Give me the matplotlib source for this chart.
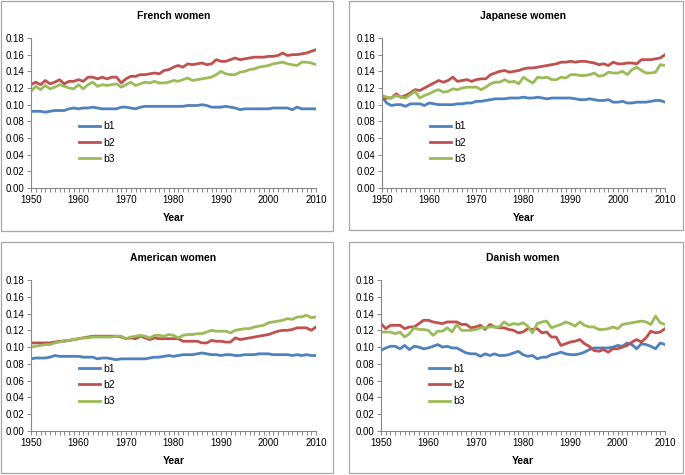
import numpy as np
import matplotlib
matplotlib.use("Agg")
import matplotlib.pyplot as plt
from matplotlib.patches import Rectangle
from matplotlib.ticker import MultipleLocator

plt.rcParams["font.family"] = ["Liberation Sans", "DejaVu Sans"]

YEARS = list(range(1950, 2011))
SERIES = ["b1", "b2", "b3"]
COLORS = ["#4F81BD", "#C0504D", "#9BBB59"]

french_b1 = [0.092, 0.092, 0.092, 0.091, 0.092, 0.093, 0.093, 0.093, 0.095, 0.096,
             0.095, 0.096, 0.096, 0.097, 0.096, 0.095, 0.095, 0.095, 0.095, 0.097,
             0.097, 0.096, 0.095, 0.097, 0.098, 0.098, 0.098, 0.098, 0.098, 0.098,
             0.098, 0.098, 0.098, 0.099, 0.099, 0.099, 0.100, 0.099, 0.097, 0.097,
             0.097, 0.098, 0.097, 0.096, 0.094, 0.095, 0.095, 0.095, 0.095, 0.095,
             0.095, 0.096, 0.096, 0.096, 0.096, 0.094, 0.097, 0.095, 0.095, 0.095,
             0.095]
french_b2 = [0.124, 0.127, 0.124, 0.129, 0.125, 0.127, 0.130, 0.125, 0.128, 0.128,
             0.130, 0.128, 0.133, 0.133, 0.131, 0.133, 0.131, 0.133, 0.133, 0.126,
             0.131, 0.134, 0.134, 0.136, 0.136, 0.137, 0.138, 0.137, 0.141, 0.142,
             0.145, 0.147, 0.145, 0.149, 0.148, 0.149, 0.150, 0.148, 0.149, 0.154,
             0.152, 0.152, 0.154, 0.156, 0.154, 0.155, 0.156, 0.157, 0.157, 0.157,
             0.158, 0.158, 0.159, 0.162, 0.159, 0.160, 0.160, 0.161, 0.162, 0.164,
             0.166]
french_b3 = [0.116, 0.122, 0.118, 0.123, 0.119, 0.121, 0.124, 0.122, 0.120, 0.119,
             0.124, 0.119, 0.124, 0.127, 0.122, 0.124, 0.123, 0.124, 0.125, 0.121,
             0.124, 0.127, 0.123, 0.125, 0.127, 0.126, 0.128, 0.126, 0.126, 0.127,
             0.129, 0.128, 0.130, 0.132, 0.129, 0.130, 0.131, 0.132, 0.133, 0.136,
             0.140, 0.137, 0.136, 0.136, 0.139, 0.140, 0.142, 0.143, 0.145, 0.146,
             0.147, 0.149, 0.150, 0.151, 0.149, 0.148, 0.147, 0.151, 0.151, 0.150,
             0.148]

japanese_b1 = [0.110, 0.102, 0.099, 0.100, 0.100, 0.098, 0.101, 0.101, 0.101, 0.099,
               0.102, 0.101, 0.100, 0.100, 0.100, 0.100, 0.101, 0.101, 0.102, 0.102,
               0.104, 0.104, 0.105, 0.106, 0.107, 0.107, 0.107, 0.108, 0.108, 0.108,
               0.109, 0.108, 0.108, 0.109, 0.108, 0.107, 0.108, 0.108, 0.108, 0.108,
               0.108, 0.107, 0.106, 0.106, 0.107, 0.106, 0.105, 0.105, 0.106, 0.103,
               0.103, 0.104, 0.102, 0.102, 0.103, 0.103, 0.103, 0.104, 0.105, 0.105,
               0.103]
japanese_b2 = [0.106, 0.108, 0.108, 0.113, 0.109, 0.111, 0.114, 0.118, 0.117, 0.120,
               0.123, 0.126, 0.129, 0.127, 0.129, 0.133, 0.128, 0.129, 0.130, 0.128,
               0.130, 0.131, 0.131, 0.136, 0.138, 0.140, 0.141, 0.139, 0.140, 0.141,
               0.143, 0.144, 0.144, 0.145, 0.146, 0.147, 0.148, 0.149, 0.151, 0.151,
               0.152, 0.151, 0.152, 0.152, 0.151, 0.150, 0.148, 0.149, 0.147, 0.151,
               0.149, 0.149, 0.150, 0.150, 0.149, 0.154, 0.154, 0.154, 0.155, 0.156,
               0.160]
japanese_b3 = [0.111, 0.109, 0.108, 0.111, 0.109, 0.108, 0.112, 0.116, 0.108, 0.111,
               0.113, 0.116, 0.118, 0.115, 0.116, 0.119, 0.118, 0.120, 0.121, 0.121,
               0.121, 0.118, 0.121, 0.125, 0.127, 0.127, 0.130, 0.127, 0.128, 0.125,
               0.133, 0.129, 0.126, 0.133, 0.132, 0.133, 0.130, 0.130, 0.133, 0.132,
               0.136, 0.136, 0.135, 0.135, 0.136, 0.138, 0.134, 0.135, 0.139, 0.138,
               0.138, 0.140, 0.136, 0.142, 0.145, 0.141, 0.138, 0.138, 0.139, 0.148,
               0.147]

american_b1 = [0.086, 0.087, 0.087, 0.087, 0.088, 0.090, 0.089, 0.089, 0.089, 0.089,
               0.089, 0.088, 0.088, 0.088, 0.086, 0.087, 0.087, 0.086, 0.085, 0.086,
               0.086, 0.086, 0.086, 0.086, 0.086, 0.087, 0.088, 0.088, 0.089, 0.090,
               0.089, 0.090, 0.091, 0.091, 0.091, 0.092, 0.093, 0.092, 0.091, 0.091,
               0.090, 0.091, 0.091, 0.090, 0.090, 0.091, 0.091, 0.091, 0.092, 0.092,
               0.092, 0.091, 0.091, 0.091, 0.091, 0.090, 0.091, 0.090, 0.091, 0.090,
               0.090]
american_b2 = [0.105, 0.105, 0.105, 0.105, 0.105, 0.106, 0.107, 0.107, 0.108, 0.109,
               0.110, 0.111, 0.112, 0.113, 0.113, 0.113, 0.113, 0.113, 0.113, 0.112,
               0.110, 0.111, 0.110, 0.113, 0.111, 0.109, 0.111, 0.110, 0.110, 0.110,
               0.110, 0.110, 0.107, 0.107, 0.107, 0.107, 0.105, 0.105, 0.108, 0.107,
               0.107, 0.106, 0.106, 0.111, 0.109, 0.110, 0.111, 0.112, 0.113, 0.114,
               0.115, 0.117, 0.119, 0.120, 0.120, 0.121, 0.123, 0.123, 0.123, 0.120,
               0.124]
american_b3 = [0.100, 0.101, 0.102, 0.103, 0.103, 0.105, 0.106, 0.108, 0.108, 0.109,
               0.110, 0.111, 0.111, 0.112, 0.112, 0.112, 0.112, 0.112, 0.113, 0.113,
               0.110, 0.112, 0.113, 0.114, 0.113, 0.111, 0.114, 0.114, 0.113, 0.115,
               0.114, 0.111, 0.114, 0.115, 0.115, 0.116, 0.116, 0.118, 0.120, 0.119,
               0.119, 0.119, 0.117, 0.120, 0.121, 0.122, 0.122, 0.124, 0.125, 0.126,
               0.129, 0.130, 0.131, 0.132, 0.134, 0.133, 0.136, 0.136, 0.138, 0.135,
               0.136]

danish_b1 = [0.096, 0.099, 0.101, 0.101, 0.098, 0.102, 0.097, 0.101, 0.100, 0.098,
             0.099, 0.101, 0.103, 0.100, 0.101, 0.099, 0.099, 0.096, 0.093, 0.092,
             0.092, 0.089, 0.092, 0.090, 0.092, 0.090, 0.090, 0.091, 0.093, 0.095,
             0.091, 0.089, 0.090, 0.086, 0.088, 0.088, 0.091, 0.092, 0.094, 0.092,
             0.091, 0.091, 0.092, 0.094, 0.097, 0.099, 0.099, 0.099, 0.099, 0.100,
             0.102, 0.101, 0.105, 0.103, 0.098, 0.104, 0.103, 0.101, 0.098, 0.105,
             0.103]
danish_b2 = [0.128, 0.122, 0.126, 0.126, 0.126, 0.122, 0.124, 0.124, 0.128, 0.132,
             0.132, 0.130, 0.129, 0.128, 0.130, 0.130, 0.130, 0.127, 0.127, 0.123,
             0.124, 0.126, 0.121, 0.127, 0.124, 0.123, 0.123, 0.121, 0.120, 0.117,
             0.118, 0.122, 0.121, 0.122, 0.117, 0.118, 0.112, 0.112, 0.102, 0.104,
             0.106, 0.107, 0.109, 0.104, 0.101, 0.096, 0.095, 0.097, 0.094, 0.098,
             0.098, 0.100, 0.102, 0.106, 0.109, 0.106, 0.111, 0.119, 0.117, 0.118,
             0.122]
danish_b3 = [0.118, 0.118, 0.118, 0.116, 0.118, 0.112, 0.116, 0.123, 0.121, 0.121,
             0.120, 0.114, 0.119, 0.119, 0.123, 0.118, 0.127, 0.120, 0.120, 0.120,
             0.121, 0.123, 0.123, 0.124, 0.124, 0.124, 0.130, 0.126, 0.128, 0.127,
             0.129, 0.125, 0.117, 0.128, 0.130, 0.131, 0.123, 0.125, 0.127, 0.130,
             0.128, 0.125, 0.130, 0.126, 0.124, 0.124, 0.121, 0.121, 0.122, 0.124,
             0.122, 0.127, 0.128, 0.129, 0.130, 0.131, 0.130, 0.127, 0.137, 0.129,
             0.127]

TITLES = ["French women", "Japanese women", "American women", "Danish women"]
DATA = [
    [french_b1, french_b2, french_b3],
    [japanese_b1, japanese_b2, japanese_b3],
    [american_b1, american_b2, american_b3],
    [danish_b1, danish_b2, danish_b3],
]

W, H = 685, 475
# axes rectangles and panel borders in pixels (left, top, right, bottom)
AX_PX = [(31, 38, 316, 188), (382, 38, 665, 188),
         (31, 280, 316, 431), (381, 280, 665, 431)]
BOX_PX = [(1, 1, 333, 231), (349, 1, 683, 230),
          (1, 242, 333, 473), (349, 242, 683, 473)]


def px_rect(l, t, r, b):
    return [l / W, 1 - b / H, (r - l) / W, (b - t) / H]


fig = plt.figure(figsize=(W / 100, H / 100), dpi=100)

for box in BOX_PX:
    l, bt, w, h = px_rect(*box)
    fig.patches.append(Rectangle((l, bt), w, h, transform=fig.transFigure,
                                 fill=False, edgecolor="#a6a6a6", linewidth=0.9))

for i in range(4):
    ax = fig.add_axes(px_rect(*AX_PX[i]))
    for s, c, vals in zip(SERIES, COLORS, DATA[i]):
        ax.plot(YEARS, vals, color=c, lw=2.0, label=s)
    ax.set_xlim(1950, 2010)
    ax.set_ylim(0, 0.18)
    ax.xaxis.set_major_locator(MultipleLocator(10))
    ax.xaxis.set_minor_locator(MultipleLocator(1))
    ax.yaxis.set_major_locator(MultipleLocator(0.02))
    ax.yaxis.set_major_formatter(matplotlib.ticker.FormatStrFormatter("%.2f"))
    for sp in ["top", "right"]:
        ax.spines[sp].set_visible(False)
    for sp in ["left", "bottom"]:
        ax.spines[sp].set_color("#868686")
        ax.spines[sp].set_linewidth(0.8)
    ax.tick_params(axis="both", which="both", direction="out", color="#868686",
                   labelsize=7, width=0.7)
    ax.tick_params(axis="both", which="major", length=3, pad=2)
    ax.tick_params(axis="x", which="minor", length=3)
    ax.set_xlabel("Year", fontsize=7.5, fontweight="bold", labelpad=6)
    ax.set_title(TITLES[i], fontsize=7.5, fontweight="bold", pad=14)
    ax.legend(loc="upper left", bbox_to_anchor=(0.17, 0.445), frameon=False,
              fontsize=7.5, handlelength=2.0, handletextpad=0.3,
              labelspacing=0.6, borderpad=0, borderaxespad=0)

fig.savefig("out.png", dpi=100)
